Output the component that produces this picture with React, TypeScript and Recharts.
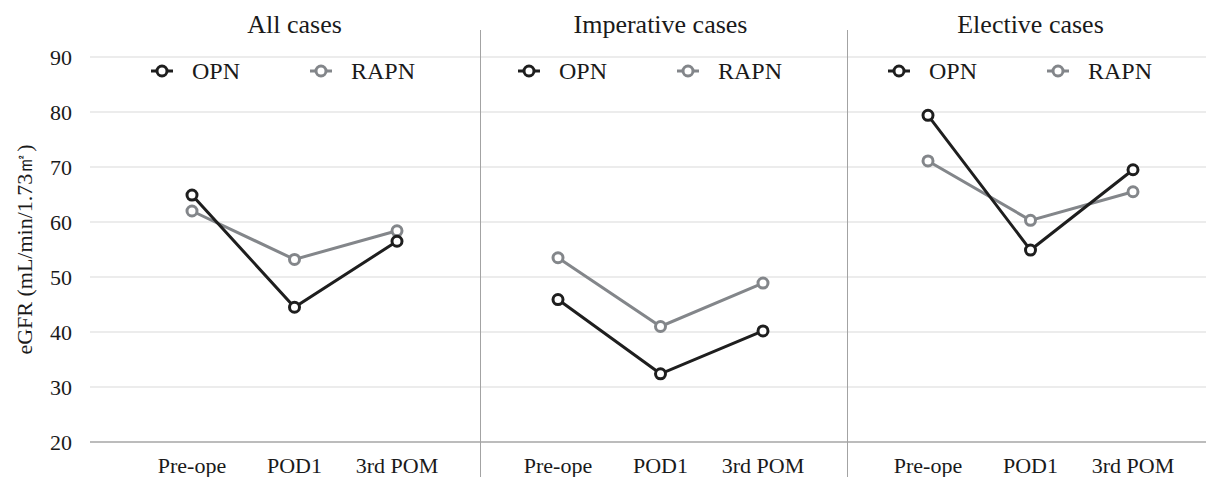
import React from 'react';
import { LineChart, Line, XAxis, YAxis, CartesianGrid, Legend } from 'recharts';

// ---- data ----
const categories = ['Pre-ope', 'POD1', '3rd POM'];
const panelTitles = ['All cases', 'Imperative cases', 'Elective cases'];
const seriesNames = ['OPN', 'RAPN'];
const allOPN = [64.9, 44.5, 56.5];
const allRAPN = [62.0, 53.2, 58.4];
const impOPN = [45.9, 32.4, 40.2];
const impRAPN = [53.5, 41.0, 48.9];
const eleOPN = [79.4, 54.9, 69.5];
const eleRAPN = [71.1, 60.3, 65.5];
const yTicks = [20, 30, 40, 50, 60, 70, 80, 90];
const yLabel = 'eGFR (mL/min/1.73㎡)';

const panelValues = [
  [allOPN, allRAPN],
  [impOPN, impRAPN],
  [eleOPN, eleRAPN],
];

const buildData = (opn: number[], rapn: number[]) =>
  categories.map((c, i) => ({ cat: c, OPN: opn[i], RAPN: rapn[i] }));

// ---- layout / style ----
const FONT = '"Liberation Serif", "Times New Roman", serif';
const H = 477;
const TOP = 57;
const XAXIS_H = 35;
const colors: Record<string, string> = { OPN: '#1e1e1e', RAPN: '#83868a' };

const panels = [
  { left: 0, width: 481, yAxisW: 90, padL: 102, padR: 84, legendLeft: 151 },
  { left: 481, width: 367, yAxisW: 0, padL: 77, padR: 85, legendLeft: 37 },
  { left: 848, width: 358, yAxisW: 0, padL: 80, padR: 73, legendLeft: 40 },
];
const dividers = [481, 848];

const LegendIcon = ({ color }: { color: string }) => (
  <svg width={22} height={22} style={{ display: 'block' }}>
    <line x1={0} y1={11} x2={22} y2={11} stroke={color} strokeWidth={3} />
    <circle cx={11} cy={11} r={5} fill="#fff" stroke={color} strokeWidth={3} />
  </svg>
);

const renderLegend = (props: any) => {
  const payload = [...(props.payload || [])].sort(
    (a: any, b: any) => seriesNames.indexOf(a.value) - seriesNames.indexOf(b.value)
  );
  return (
    <div style={{ display: 'flex', alignItems: 'center', height: 28 }}>
      {payload.map((entry: any) => (
        <div key={entry.value} style={{ display: 'flex', alignItems: 'center', width: 159 }}>
          <LegendIcon color={entry.color} />
          <span style={{ marginLeft: 19, fontSize: 24, color: '#1a1a1a', fontFamily: FONT }}>
            {entry.value}
          </span>
        </div>
      ))}
    </div>
  );
};

export default function App() {
  return (
    <div
      style={{
        position: 'absolute',
        left: 0,
        top: 0,
        width: 1206,
        height: H,
        background: '#fff',
        fontFamily: FONT,
        overflow: 'hidden',
      }}
    >
      <style>{`.recharts-wrapper text, .recharts-wrapper tspan { font-family: 'Liberation Serif', 'Times New Roman', serif !important; }`}</style>
      {panels.map((p, i) => {
        const data = buildData(panelValues[i][0], panelValues[i][1]);
        const plotW = p.width - p.yAxisW;
        const center = p.left + p.yAxisW + p.padL + (plotW - p.padL - p.padR) / 2;
        return (
          <React.Fragment key={panelTitles[i]}>
            <div style={{ position: 'absolute', left: p.left, top: 0 }}>
              <LineChart
                width={p.width}
                height={H}
                data={data}
                margin={{ top: TOP, right: 0, bottom: 0, left: 0 }}
                style={{ fontFamily: FONT }}
              >
                <CartesianGrid vertical={false} stroke="#d9d9d9" strokeWidth={1} />
                <XAxis
                  dataKey="cat"
                  type="category"
                  height={XAXIS_H}
                  padding={{ left: p.padL, right: p.padR }}
                  tickLine={false}
                  tickSize={0}
                  tickMargin={15}
                  axisLine={{ stroke: '#8c8c8c', strokeWidth: 1 }}
                  interval={0}
                  tick={{ fill: '#1a1a1a', fontSize: 22, fontFamily: FONT }}
                />
                {p.yAxisW > 0 ? (
                  <YAxis
                    type="number"
                    domain={[20, 90]}
                    ticks={yTicks}
                    width={p.yAxisW}
                    axisLine={false}
                    tickLine={false}
                    tickSize={0}
                    tickMargin={18}
                    tick={{ fill: '#1a1a1a', fontSize: 22, fontFamily: FONT }}
                    label={{
                      value: yLabel,
                      angle: -90,
                      position: 'insideLeft',
                      offset: 24,
                      style: { textAnchor: 'middle', fill: '#1a1a1a', fontSize: 22, fontFamily: FONT },
                    }}
                  />
                ) : (
                  <YAxis type="number" domain={[20, 90]} ticks={yTicks} hide />
                )}
                <Legend
                  layout="horizontal"
                  verticalAlign="middle"
                  align="center"
                  content={renderLegend}
                  wrapperStyle={{ top: TOP, left: p.legendLeft, width: 330, height: 28 }}
                />
                <Line
                  dataKey="RAPN"
                  stroke={colors.RAPN}
                  strokeWidth={3}
                  dot={{ r: 5, strokeWidth: 3, fill: '#fff', stroke: colors.RAPN }}
                  activeDot={false}
                  isAnimationActive={false}
                />
                <Line
                  dataKey="OPN"
                  stroke={colors.OPN}
                  strokeWidth={3}
                  dot={{ r: 5, strokeWidth: 3, fill: '#fff', stroke: colors.OPN }}
                  activeDot={false}
                  isAnimationActive={false}
                />
              </LineChart>
            </div>
            <div
              style={{
                position: 'absolute',
                left: center - 150,
                width: 300,
                top: 12,
                textAlign: 'center',
                fontSize: 26,
                lineHeight: '26px',
                color: '#1a1a1a',
              }}
            >
              {panelTitles[i]}
            </div>
          </React.Fragment>
        );
      })}
      {dividers.map((x) => (
        <div
          key={x}
          style={{ position: 'absolute', left: x - 1, top: 30, width: 1, height: H - 30, background: '#a3a3a3' }}
        />
      ))}
    </div>
  );
}
